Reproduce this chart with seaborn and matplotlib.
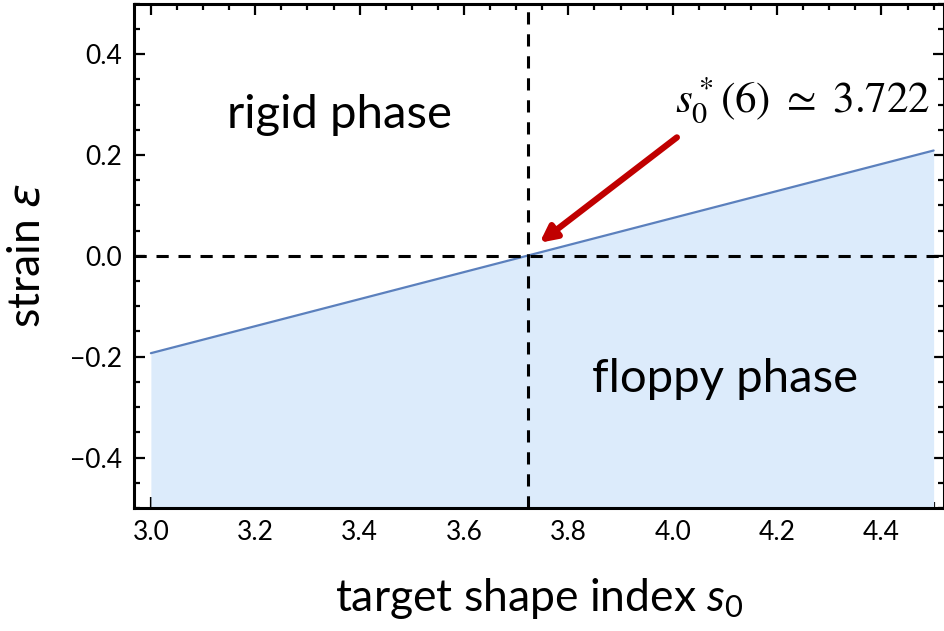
import numpy as np
import pandas as pd
import matplotlib.pyplot as plt
import seaborn as sns
from matplotlib.ticker import MultipleLocator

# boundary of the rigidity transition
s0_values = [3.0, 3.5, 4.0, 4.5]
strain_values = [-0.193, -0.059, 0.075, 0.209]
s0_star = 3.722
x_ticks = [3.0, 3.2, 3.4, 3.6, 3.8, 4.0, 4.2, 4.4]
y_ticks = [-0.4, -0.2, 0.0, 0.2, 0.4]

df = pd.DataFrame({'s0': s0_values, 'strain': strain_values})

sns.set_theme(style='white')
plt.rcParams['font.family'] = ['Lato', 'DejaVu Sans']
plt.rcParams['mathtext.fontset'] = 'custom'
plt.rcParams['mathtext.it'] = 'Lato:italic'
plt.rcParams['mathtext.rm'] = 'Lato'
plt.rcParams['mathtext.fallback'] = 'stixsans'
plt.rcParams['text.color'] = 'black'
plt.rcParams['axes.labelcolor'] = 'black'
plt.rcParams['xtick.color'] = 'black'
plt.rcParams['ytick.color'] = 'black'

fig = plt.figure(figsize=(9.45, 6.31), dpi=100)
ax = fig.add_axes([0.142, 0.195, 0.857, 0.799])

# floppy region under the line
ax.fill_between(df['s0'], df['strain'], -0.5, color='#dcebfb', lw=0, zorder=1)
sns.lineplot(data=df, x='s0', y='strain', ax=ax, color='#5b80bd', lw=1.6, zorder=2)

ax.axvline(s0_star, color='black', ls=(0, (4, 3.2)), lw=2.2, zorder=3)
ax.axhline(0, color='black', ls=(0, (4, 3.2)), lw=2.2, zorder=3)

ax.set_xlim(2.968, 4.52)
ax.set_ylim(-0.5, 0.5)
ax.set_xticks(x_ticks)
ax.set_yticks(y_ticks)
ax.xaxis.set_minor_locator(MultipleLocator(0.05))
ax.yaxis.set_minor_locator(MultipleLocator(0.05))
ax.set_xticklabels([f'{v:.1f}' for v in x_ticks])
ax.set_yticklabels([f'{v:.1f}'.replace('-', '\u2212') for v in y_ticks])

ax.tick_params(which='both', direction='in', top=True, right=True,
               bottom=True, left=True, color='black', width=1.6,
               labelsize=19, pad=9)
ax.tick_params(which='major', length=8)
ax.tick_params(which='minor', length=4.5)
for s in ax.spines.values():
    s.set_color('black')
    s.set_linewidth(2.2)

ax.set_xlabel('target shape index $s_0$', fontsize=32, labelpad=22)
ylab = ax.set_ylabel('strain $\\varepsilon$', fontsize=32, labelpad=16)
ylab.set_math_fontfamily('dejavusans')

ax.text(3.362, 0.28, 'rigid phase', fontsize=34, ha='center', va='center')
ax.text(4.10, -0.245, 'floppy phase', fontsize=34, ha='center', va='center')

ax.annotate('', xy=(3.745, 0.026), xytext=(4.008, 0.235),
            arrowprops=dict(arrowstyle='-|>,head_length=0.8,head_width=0.4',
                            color='#c00000', lw=4.5, shrinkA=0, shrinkB=0))
ax.text(4.25, 0.31, '$s_0^*(6)\\ \\simeq\\ 3.722$', fontsize=31,
        ha='center', va='center', math_fontfamily='stix')

fig.savefig('out.png', dpi=100)
